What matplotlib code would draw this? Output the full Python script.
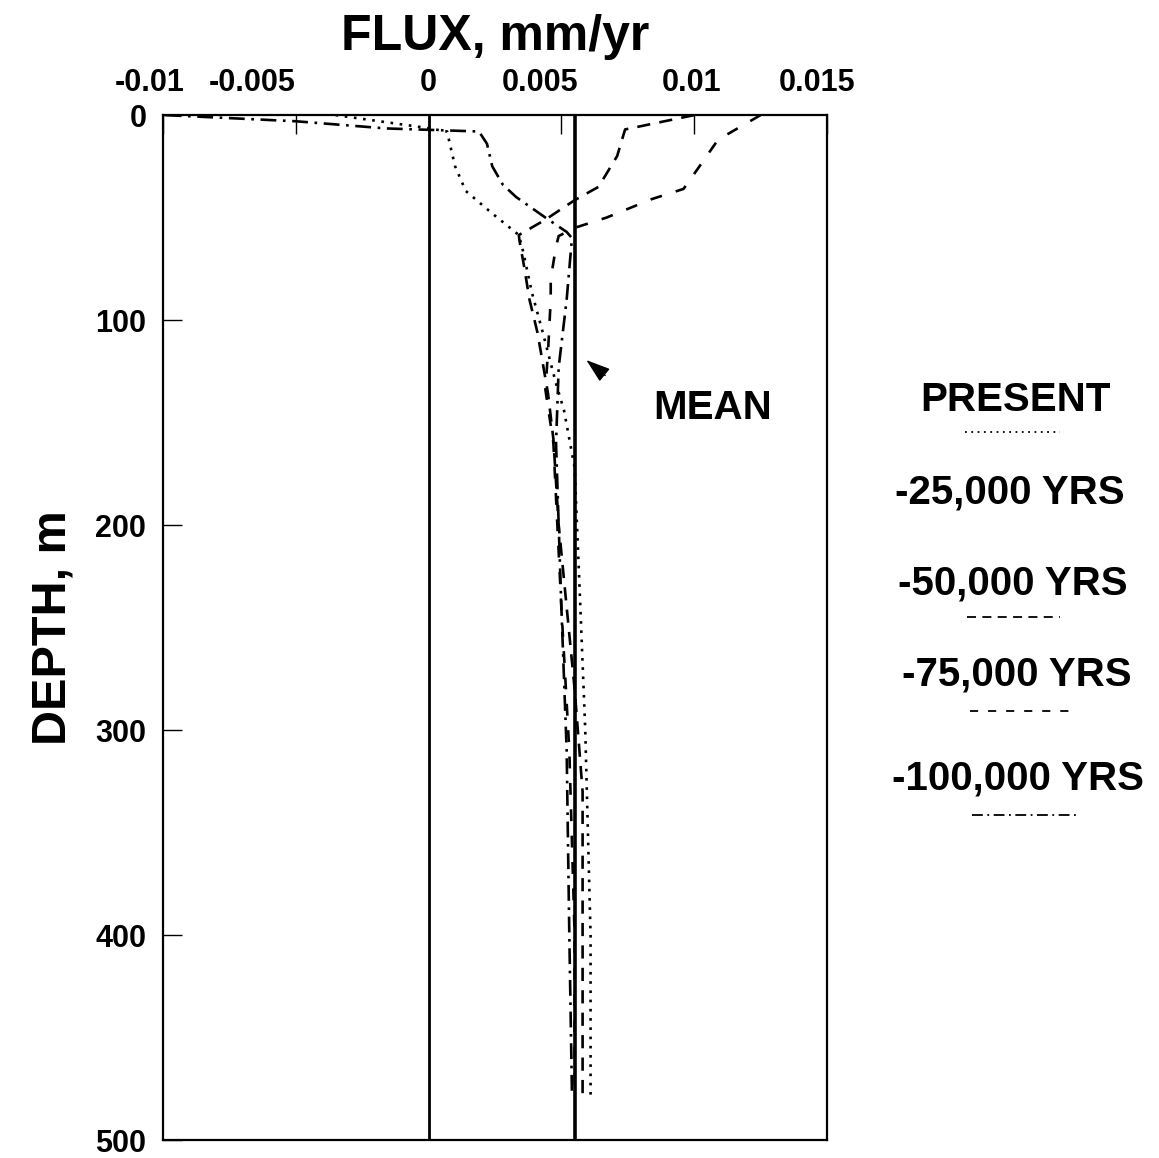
import numpy as np
import matplotlib.pyplot as plt
import matplotlib.transforms as mtransforms

plt.rcParams['font.family'] = ['Liberation Sans', 'DejaVu Sans']
plt.rcParams['font.weight'] = 'bold'

# Flux profiles, mm/yr against depth, m
present_depth = [0, 6, 8, 14, 25, 37, 48, 58.5, 66, 87, 106, 131, 144, 158,
                 172, 235, 300, 400, 478]
present_flux = [-0.0035, -0.0002, 0.0007, 0.0008, 0.0010, 0.0014, 0.0024,
                0.0034, 0.00355, 0.0039, 0.0043, 0.0048, 0.0051, 0.0053,
                0.0055, 0.0057, 0.0059, 0.0061, 0.0061]

yr50_depth = [0, 7, 20, 35, 41.5, 51, 58.5, 61, 74, 90, 106, 136, 158, 200,
              240, 280, 330, 400, 478]
yr50_flux = [0.0100, 0.0074, 0.0071, 0.0064, 0.0055, 0.0044, 0.0034,
             0.00342, 0.0036, 0.0038, 0.0041, 0.0045, 0.0047, 0.0049,
             0.0052, 0.0055, 0.0058, 0.0058, 0.0058]

yr75_depth = [0, 12, 25, 36, 41, 50, 55, 57, 59, 64, 80, 90, 115, 134, 160,
              240, 310, 400, 478]
yr75_flux = [0.0125, 0.0109, 0.0102, 0.0096, 0.0084, 0.0067, 0.0055, 0.0052,
             0.0049, 0.0048, 0.0046, 0.0046, 0.0045, 0.0044, 0.0047, 0.0050,
             0.0053, 0.0055, 0.0055]

yr100_depth = [0, 3, 6.5, 8, 14, 25, 34, 40, 50, 57, 60, 66, 90, 123, 160,
               200, 240, 310, 400, 478]
yr100_flux = [-0.0099, -0.0050, -0.0016, 0.0019, 0.0022, 0.0024, 0.0028,
              0.0033, 0.0044, 0.0052, 0.0054, 0.00536, 0.0052, 0.0049,
              0.0048, 0.0049, 0.0050, 0.0052, 0.0053, 0.0054]

mean_flux = 0.0055

xticks = [-0.01, -0.005, 0, 0.005, 0.01, 0.015]
xticklabels = ['-0.01', '-0.005', '0', '0.005', '0.01', '0.015']
# label centres sit a little off their ticks on the printed axis
xlabel_pos = [-0.01049, -0.00665, 0, 0.00421, 0.00989, 0.01462]
yticks = [0, 100, 200, 300, 400, 500]

legend_labels = ['PRESENT', '-25,000 YRS', '-50,000 YRS', '-75,000 YRS',
                 '-100,000 YRS']

W, H = 1159, 1158
fig = plt.figure(figsize=[W / 100, H / 100], dpi=100)
ax = fig.add_axes([0.1406, 0.0155, 0.5729, 0.8851])

dot = (0, (1, 2.5))
dash50 = (0, (5, 3.5))
dash75 = (0, (4.5, 5.5))
dashdot = (0, (6, 2.5, 1, 2.5))

lw = 1.9
ax.plot(present_flux, present_depth, color='k', lw=lw, linestyle=dot)
ax.plot(yr50_flux, yr50_depth, color='k', lw=lw, linestyle=dash50)
ax.plot(yr75_flux, yr75_depth, color='k', lw=lw, linestyle=dash75)
ax.plot(yr100_flux, yr100_depth, color='k', lw=lw, linestyle=dashdot)

ax.axvline(0, color='k', lw=2)
ax.axvline(mean_flux, color='k', lw=2.6)

ax.annotate('', xy=(0.00594, 119.5), xytext=(0.00665, 127),
            arrowprops=dict(arrowstyle='-|>,head_length=1.5,head_width=0.5',
                            color='k', lw=1, shrinkA=0, shrinkB=0))
ax.text(0.0107, 143, 'MEAN', fontsize=29, fontweight='bold',
        ha='center', va='center')

ax.set_xlim(-0.01, 0.015)
ax.set_ylim(500, 0)
ax.set_xticks(xticks)
ax.set_xticklabels([])
ax.set_yticks(yticks)
ax.xaxis.tick_top()
ax.tick_params(axis='x', direction='in', length=14, width=1)
ax.tick_params(axis='y', direction='in', length=14, width=1,
               labelsize=22, pad=12)
for lab in ax.get_yticklabels():
    lab.set_fontweight('bold')
for sp in ax.spines.values():
    sp.set_linewidth(1.6)

trans = mtransforms.blended_transform_factory(ax.transData, ax.transAxes)
for xp, txt in zip(xlabel_pos, xticklabels):
    ax.text(xp, 1.0 + 32 / 1025, txt, transform=trans, fontsize=22,
            fontweight='bold', ha='center', va='center')

fig.text(495 / W, 1 - 37 / H, 'FLUX, mm/yr', fontsize=36,
         fontweight='bold', ha='center', va='center')
ax.set_ylabel('DEPTH, m', fontsize=35, fontweight='bold', labelpad=14)

# legend column on the right, placed in figure pixels
text_px = [(1015, 400), (1010, 492), (1013, 583), (1017, 675), (1018, 778)]
for lbl, (tx, ty) in zip(legend_labels, text_px):
    fig.text(tx / W, 1 - ty / H, lbl, fontsize=29, fontweight='bold',
             ha='center', va='center')

samples = [((965, 1060), 432, dot), ((967, 1060), 617, dash50),
           ((970, 1073), 711, dash75), ((972, 1077), 815, dashdot)]
for (x0, x1), y, ls in samples:
    fig.add_artist(plt.Line2D([x0 / W, x1 / W], [1 - y / H, 1 - y / H],
                              color='k', lw=1.3, linestyle=ls))

plt.savefig('out.png', dpi=100)
